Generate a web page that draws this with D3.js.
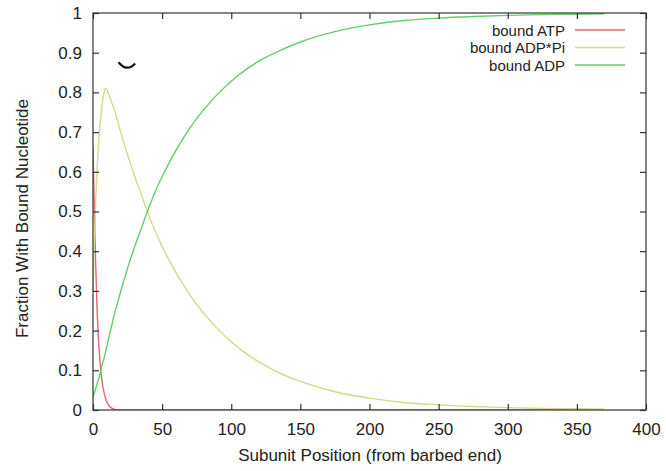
<!DOCTYPE html>
<html>
<head>
<meta charset="utf-8">
<script src="https://cdn.jsdelivr.net/npm/d3@7"></script>
<style>
  html, body { margin: 0; padding: 0; background: #fff; }
  svg { display: block; }
  text { font-family: "Liberation Sans", Arial, Helvetica, sans-serif; fill: #222; }
</style>
</head>
<body>
<svg id="chart" width="666" height="471"></svg>
<script>
// ---- data ----
const positions = [0,1,2,3,4,5,6,7,8,9,10,11,12,13,14,15,16,18,20,22,24,26,28,30,35,40,45,50,55,60,65,70,80,90,100,110,120,135,150,175,200,225,250,275,300,325,350,370];
const boundATP = [0.66,0.50,0.36,0.25,0.175,0.125,0.088,0.062,0.044,0.031,0.021,0.014,0.009,0.006,0.004,0.002,0.001,0,0,0,0,0,0,0,0,0,0,0,0,0,0,0,0,0,0,0,0,0,0,0,0,0,0,0,0,0,0,0];
const boundADPPi = [0.30,0.42,0.53,0.61,0.67,0.715,0.75,0.78,0.80,0.81,0.808,0.80,0.79,0.78,0.77,0.76,0.75,0.725,0.70,0.677,0.654,0.632,0.611,0.59,0.542,0.494,0.45,0.412,0.378,0.346,0.317,0.29,0.244,0.205,0.172,0.144,0.121,0.093,0.072,0.046,0.03,0.019,0.013,0.009,0.006,0.004,0.003,0.002];
const boundADP = [0.033,0.044,0.055,0.066,0.077,0.09,0.105,0.118,0.13,0.145,0.16,0.175,0.19,0.205,0.22,0.235,0.248,0.273,0.298,0.322,0.345,0.368,0.389,0.41,0.458,0.506,0.55,0.588,0.622,0.654,0.683,0.71,0.756,0.795,0.828,0.856,0.879,0.905,0.927,0.953,0.97,0.981,0.987,0.991,0.994,0.996,0.997,0.998];
const seriesNames = ["bound ATP", "bound ADP*Pi", "bound ADP"];
const seriesColors = ["#e3676f", "#d5d98a", "#62cf69"];
const xTicks = [0,50,100,150,200,250,300,350,400];
const yTicks = [0,0.1,0.2,0.3,0.4,0.5,0.6,0.7,0.8,0.9,1];
const xTitle = "Subunit Position (from barbed end)";
const yTitle = "Fraction With Bound Nucleotide";

// ---- layout ----
const svg = d3.select("#chart");
const L = 93, R = 646, T = 13, B = 410;
const FS = 17, LFS = 15;
const x = d3.scaleLinear().domain([0, 400]).range([L, R]);
const y = d3.scaleLinear().domain([0, 1]).range([B, T]);
const tickLen = 6;
const axisColor = "#333";

const series = [boundATP, boundADPPi, boundADP].map((vals, i) => ({
  name: seriesNames[i], color: seriesColors[i],
  pts: positions.map((p, j) => [p, vals[j]])
}));

// clip
svg.append("defs").append("clipPath").attr("id", "clip")
  .append("rect").attr("x", L).attr("y", T).attr("width", R - L).attr("height", B - T);

const line = d3.line().x(d => x(d[0])).y(d => y(d[1])).curve(d3.curveMonotoneX);

const gLines = svg.append("g").attr("clip-path", "url(#clip)");
series.forEach(s => {
  gLines.append("path").datum(s.pts)
    .attr("fill", "none").attr("stroke", s.color).attr("stroke-width", 1.4)
    .attr("d", line);
});

// axes (inward ticks, mirrored)
const fmt = d => d3.format("")(d);
const gBottom = svg.append("g").attr("transform", `translate(0,${B})`)
  .call(d3.axisBottom(x).tickValues(xTicks).tickSizeInner(-tickLen).tickSizeOuter(0).tickPadding(13).tickFormat(fmt));
const gTop = svg.append("g").attr("transform", `translate(0,${T})`)
  .call(d3.axisTop(x).tickValues(xTicks).tickSizeInner(-tickLen).tickSizeOuter(0).tickFormat(""));
const gLeft = svg.append("g").attr("transform", `translate(${L},0)`)
  .call(d3.axisLeft(y).tickValues(yTicks).tickSizeInner(-tickLen).tickSizeOuter(0).tickPadding(11).tickFormat(fmt));
const gRight = svg.append("g").attr("transform", `translate(${R},0)`)
  .call(d3.axisRight(y).tickValues(yTicks).tickSizeInner(-tickLen).tickSizeOuter(0).tickFormat(""));
[gBottom, gTop, gLeft, gRight].forEach(g => {
  g.select(".domain").remove();
  g.selectAll(".tick line").attr("stroke", axisColor).attr("stroke-width", 1.2);
  g.selectAll("text").attr("font-size", FS).attr("fill", "#222")
    .style("font-family", "'Liberation Sans', Arial, sans-serif");
});
svg.append("rect").attr("x", L).attr("y", T).attr("width", R - L).attr("height", B - T)
  .attr("fill", "none").attr("stroke", axisColor).attr("stroke-width", 1.2);

// axis titles
svg.append("text").attr("x", 370).attr("y", 461).attr("text-anchor", "middle")
  .attr("font-size", FS).text(xTitle);
svg.append("text").attr("transform", `translate(28,${(T + B) / 2 + 7}) rotate(-90)`)
  .attr("text-anchor", "middle").attr("font-size", FS).text(yTitle);

// legend
const legend = svg.append("g");
series.forEach((s, i) => {
  const cy = 30 + i * 17.5;
  legend.append("text").attr("x", 565).attr("y", cy + 5.5).attr("text-anchor", "end")
    .attr("font-size", LFS).text(s.name);
  legend.append("line").attr("x1", 575).attr("x2", 625).attr("y1", cy).attr("y2", cy)
    .attr("stroke", s.color).attr("stroke-width", 1.4);
});

// small scan artifact near the top-left of the plot
svg.append("path")
  .attr("d", `M${x(18.5)},${y(0.876)} Q${x(24.5)},${y(0.85)} ${x(30.5)},${y(0.873)}`)
  .attr("fill", "none").attr("stroke", "#111").attr("stroke-width", 2.2);
</script>
</body>
</html>
